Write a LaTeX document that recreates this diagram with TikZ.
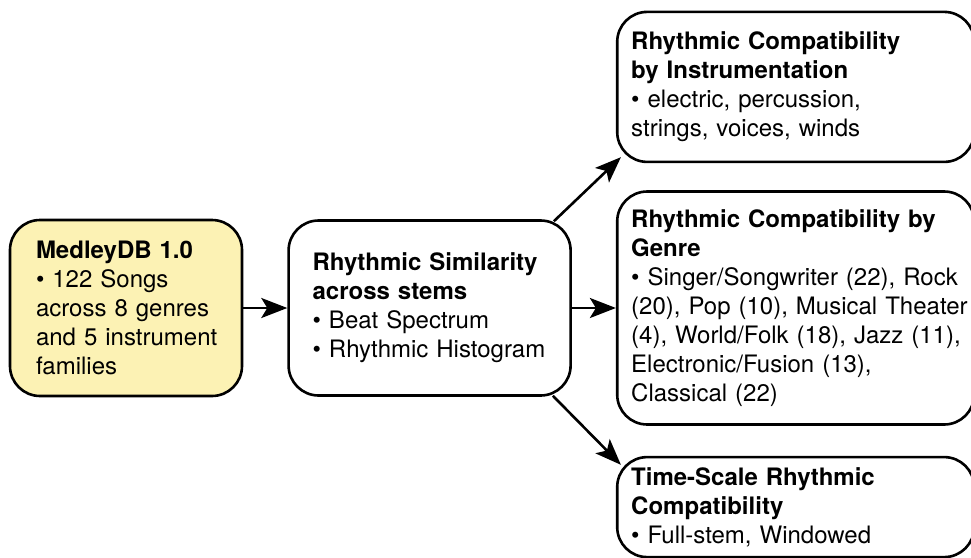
\documentclass[tikz,border=0pt]{standalone}
\usepackage{fontspec}
\setmainfont{TeX Gyre Heros}
\usepackage{xcolor}
\usetikzlibrary{positioning,arrows.meta,calc}
\definecolor{srcyellow}{RGB}{252,242,180}

\begin{document}
\begin{tikzpicture}[x=1pt, y=-1pt, font=\fontsize{24}{29}\selectfont,
		stage/.style={draw, line width=2.6pt, rounded corners=30pt, align=left, inner ysep=0pt},
		arr/.style={line width=2.6pt, -{Stealth[length=26pt,width=20pt,inset=6pt]}}]
		\useasboundingbox (0,0) rectangle (971,557);
		\node[stage, fill=srcyellow, inner xsep=26pt, text width=180pt, minimum height=176pt] (src) at (126,308) {\textbf{MedleyDB 1.0}\\\textbullet{} 122 Songs\\across 8 genres\\\mbox{and 5 instrument}\\families};
		\node[stage, right=44pt of src, inner xsep=24pt, text width=234pt, minimum height=175pt] (sim) {\textbf{Rhythmic Similarity}\\\textbf{across stems}\\\textbullet{} Beat Spectrum\\\mbox{\textbullet{} Rhythmic Histogram}};
		\node[stage, right=44pt of sim, inner xsep=14pt, text width=329pt, minimum height=233pt] (genre) {\mbox{\textbf{Rhythmic Compatibility by}}\\\textbf{Genre}\\\mbox{\textbullet{} Singer/Songwriter (22), Rock}\\\mbox{(20), Pop (10), Musical Theater}\\\mbox{(4), World/Folk (18), Jazz (11),}\\Electronic/Fusion (13),\\Classical (22)};
		\node[stage, above=27pt of genre, inner xsep=14pt, text width=329pt, minimum height=150pt] (instr) {\textbf{Rhythmic Compatibility}\\\textbf{by Instrumentation}\\\textbullet{} electric, percussion,\\strings, voices, winds};
		\node[stage, below=30pt of genre, inner xsep=14pt, text width=329pt, minimum height=100pt] (time) {\textbf{Time-Scale Rhythmic}\\\textbf{Compatibility}\\\textbullet{} Full-stem, Windowed};
		\draw[arr] (src) -- (sim);
		\draw[arr] (sim) -- (genre);
		\draw[arr] ($(sim.north east)+(-18,2)$) -- ($(instr.south west)+(5,-6)$);
		\draw[arr] ($(sim.south east)+(-19,-1)$) -- ($(time.north west)+(5,9)$);
	\end{tikzpicture}
\end{document}
